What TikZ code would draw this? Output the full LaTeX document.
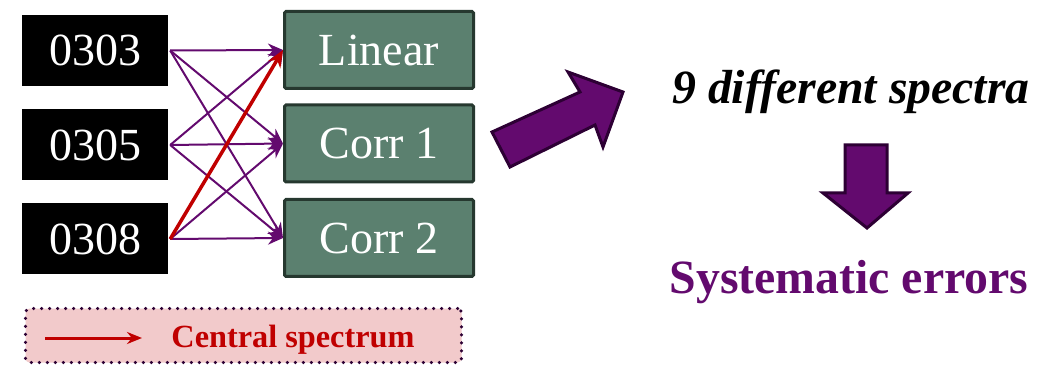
\documentclass[tikz,border=0pt]{standalone}
\usepackage{fontspec}
\setmainfont{Liberation Serif}
\usetikzlibrary{arrows.meta}
\definecolor{pur}{RGB}{99,10,110}
\definecolor{purdark}{RGB}{45,0,52}
\definecolor{gfill}{RGB}{91,128,111}
\definecolor{gdraw}{RGB}{38,56,47}
\definecolor{redc}{RGB}{192,0,0}
\definecolor{pinkc}{RGB}{242,202,203}
\tikzset{
  blk/.style={fill=black, text=white, minimum width=146pt, minimum height=71pt, inner sep=0pt, font=\fontsize{46}{50}\selectfont},
  grn/.style={fill=gfill, draw=gdraw, line width=3pt, text=white, minimum width=189pt, minimum height=77pt, inner sep=0pt, rounded corners=1.5pt, font=\fontsize{46}{50}\selectfont},
  conn/.style={draw=pur, line width=2pt, -{Stealth[length=15pt,width=13pt]}},
  cent/.style={draw=redc, line width=3.5pt, -{Stealth[length=17pt,width=14pt]}},
  bigarrow/.style={fill=pur, draw=purdark, line width=3pt, line join=miter},
}
\begin{document}
\begin{tikzpicture}[x=1pt,y=-1pt]
\useasboundingbox (0,0) rectangle (1058,366);
% source boxes
\node[blk] (s1) at (95,50.5) {0303};
\node[blk] (s2) at (95,145) {0305};
\node[blk] (s3) at (95,239) {0308};
% targets
\node[grn] (t1) at (379,50) {Linear};
\node[grn] (t2) at (379,143.5) {Corr 1};
\node[grn] (t3) at (379,238) {Corr 2};
% connectors
\foreach \s in {s1,s2,s3}{
  \foreach \t in {t1,t2,t3}{
    \draw[conn] ([xshift=2pt]\s.east) -- (\t.west);
  }
}
\draw[cent] ([xshift=2pt]s3.east) -- (t1.west);
% big diagonal arrow
\filldraw[bigarrow] (492,132) -- (580,92) -- (568,72) -- (623,92) -- (603,147) -- (595,125) -- (510,167) -- cycle;
% texts
\node[font=\bfseries\itshape\fontsize{47.8}{52}\selectfont, text=black, inner sep=0pt] (nine) at (851,92) {9 different spectra};
\filldraw[bigarrow] (845,145) -- (887,145) -- (887,193) -- (908,193) -- (867,228) -- (823,193) -- (845,193) -- cycle;
\node[font=\bfseries\fontsize{47.8}{52}\selectfont, text=pur, inner sep=0pt] (sys) at (849,282) {Systematic errors};
% legend
\node[fill=pinkc, draw=purdark, line width=3.5pt, dash pattern=on 0pt off 8pt, line cap=round, rounded corners=4pt, minimum width=436pt, minimum height=54pt, inner sep=0pt] (leg) at (243.5,335.5) {};
\coordinate (la) at (45,338);
\coordinate (lb) at (142,338);
\draw[draw=redc, line width=3pt, -{Stealth[length=15pt,width=12pt]}] (la) -- (lb);
\node[font=\bfseries\fontsize{32.3}{35}\selectfont, text=redc, inner sep=0pt] (ltext) at (293,340) {Central spectrum};
\end{tikzpicture}
\end{document}
